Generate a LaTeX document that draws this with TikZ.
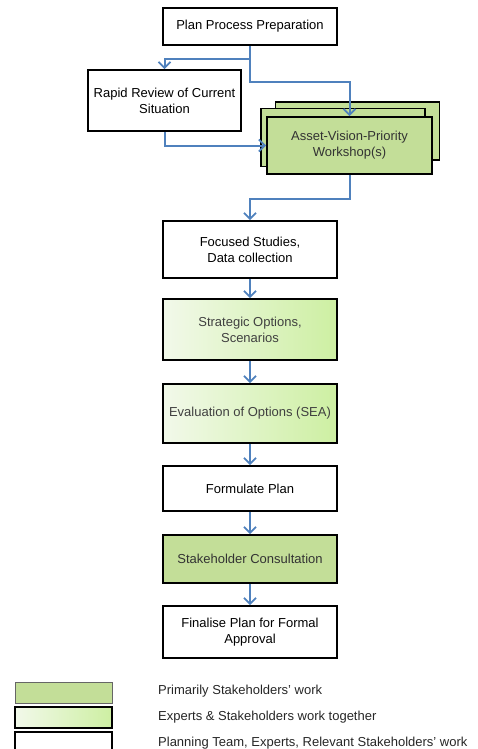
\documentclass[tikz,border=0pt]{standalone}
\usepackage{fontspec}
\setmainfont{Liberation Sans}
\usetikzlibrary{arrows.meta}
\definecolor{stakegreen}{HTML}{C3DE98}
\definecolor{gradleft}{HTML}{F2F9EA}
\definecolor{gradright}{HTML}{CDEFA2}
\definecolor{flowblue}{HTML}{4F81BD}
\tikzset{
  box/.style={draw=black, line width=1.8pt, rectangle, align=center, inner sep=2pt,
    font=\fontsize{13}{16}\selectfont},
  teambox/.style={box, fill=white},
  stakebox/.style={box, fill=stakegreen, text=black!80},
  jointbox/.style={box, left color=gradleft, right color=gradright, text=black!75},
  stackbox/.style={draw=black, line width=1.1pt, fill=stakegreen, minimum width=164pt, minimum height=58pt},
  flow/.style={draw=flowblue, line width=2pt,
    -{Straight Barb[length=6pt,width=12pt,line width=1.8pt]}},
  legendtext/.style={anchor=west, inner sep=0pt, font=\fontsize{13}{15}\selectfont, text=black!85},
}
\begin{document}
\begin{tikzpicture}[x=1pt,y=-1pt]
\useasboundingbox (0,0) rectangle (478,749);

% planning steps
\node[teambox, minimum width=174pt, minimum height=37pt] (prep) at (250,26.5) {Plan Process Preparation};
\node[teambox, minimum width=153pt, minimum height=61pt] (review) at (164.5,100.5) {Rapid Review of Current\\Situation};

% stacked workshop boxes
\node[stackbox] (wsb) at (357.5,131) {};
\node[stackbox] (wsm) at (343,137.5) {};
\node[stakebox, minimum width=165pt, minimum height=57pt] (wsf) at (349.5,145.5) {Asset-Vision-Priority\\Workshop(s)};

\node[teambox, minimum width=174pt, minimum height=57pt] (studies) at (250,249.5) {Focused Studies,\\Data collection};
\node[jointbox, minimum width=174pt, minimum height=61pt] (options) at (250,329.5) {Strategic Options,\\Scenarios};
\node[jointbox, minimum width=174pt, minimum height=59pt] (eval) at (250,413.5) {Evaluation of Options (SEA)};
\node[teambox, minimum width=174pt, minimum height=45pt] (formulate) at (250,488.5) {Formulate Plan};
\node[stakebox, minimum width=174pt, minimum height=48pt] (consult) at (250,559) {Stakeholder Consultation};
\node[teambox, minimum width=174pt, minimum height=52pt] (finalise) at (250,632) {Finalise Plan for Formal\\Approval};

% connectors
\draw[flow] (prep.south) -- ++(0,13) -| (review.north);
\draw[flow] (prep.south) -- ++(0,36) -| (wsf.north);
\draw[flow] (review.south) |- (wsf.west);
\draw[flow] (wsf.south) -- ++(0,24) -| (studies.north);
\draw[flow] (studies) -- (options);
\draw[flow] (options) -- (eval);
\draw[flow] (eval) -- (formulate);
\draw[flow] (formulate) -- (consult);
\draw[flow] (consult) -- (finalise);

% legend
\node[draw=black!60, line width=0.8pt, fill=stakegreen, minimum width=97pt, minimum height=21pt] (leg1) at (63.5,692.5) {};
\node[jointbox, minimum width=97pt, minimum height=21pt] (leg2) at (63.5,717.5) {};
\node[teambox, minimum width=97pt, minimum height=21pt] (leg3) at (63.5,742.5) {};
\node[legendtext] (legt1) at (158,691) {Primarily Stakeholders' work};
\node[legendtext] (legt2) at (158,717) {Experts \& Stakeholders work together};
\node[legendtext] (legt3) at (158,743) {Planning Team, Experts, Relevant Stakeholders' work};
\end{tikzpicture}
\end{document}
